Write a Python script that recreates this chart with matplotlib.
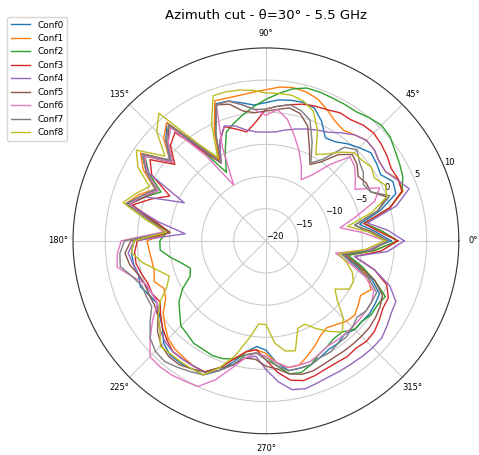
import numpy as np
import matplotlib
matplotlib.use("Agg")
import matplotlib.pyplot as plt

# azimuth angles in degrees, 5 deg step
angles_deg = np.arange(0, 360, 5)

# gain in dB per configuration
conf0 = [-0.5, -3.0, -5.2, -1.5, 1.5, 1.8, 0.6, 1.0, 1.3,
         0.5, -0.3, -1.2, -1.5, 0.5, 2.0, 2.3, 2.2, 2.0,
         1.5, 1.2, 1.8, 2.5, 2.7, -1.5, -5.5, -2.0, 4.0,
         2.0, -0.8, 3.5, 1.5, -1.2, 0.5, 2.3, -2.0, -5.0,
         0.5, 1.0, 0.9, 0.5, 0.8, 0.0, -0.5, 0.2, 1.0,
         2.5, 3.2, 3.2, 3.0, 3.0, 1.5, -0.5, -2.5, -3.5,
         -3.0, -1.0, 0.5, 0.5, 0.5, 0.0, -0.5, -0.5, -1.0,
         -0.5, -0.5, -0.3, -0.4, -0.5, -2.5, -5.5, -8.0, -4.0]
conf1 = [0.5, -2.0, -4.5, 0.0, 2.7, 2.7, 1.5, 1.5, 2.0,
         2.1, 1.5, 1.0, 1.5, 2.5, 3.5, 4.0, 4.2, 4.0,
         3.5, 3.2, 3.0, 3.0, 3.2, -1.0, -5.5, -2.0, 4.0,
         2.5, -0.5, 3.8, 2.0, -1.0, 1.0, 2.5, -2.0, -5.0,
         -1.5, -1.8, -2.0, -2.0, -1.5, -2.5, -2.0, -0.5, 0.5,
         1.5, 2.0, 2.2, 2.5, 2.5, 1.0, -1.0, -2.5, -3.0,
         -2.5, -1.0, 0.0, 0.0, -1.0, -2.0, -3.0, -3.5, -3.0,
         -2.3, -2.0, -2.5, -3.0, -2.0, -3.0, -5.0, -7.5, -3.0]
conf2 = [0.5, -2.0, -4.5, 0.0, 2.5, 3.5, 4.0, 4.5, 5.2,
         5.4, 5.0, 4.5, 4.5, 4.5, 4.6, 4.6, 4.0, 3.0,
         2.0, 1.0, 0.0, -1.0, -2.0, -5.0, -7.7, -3.0, 3.5,
         1.5, -1.0, 3.0, 1.0, -2.0, 0.0, 2.0, -2.0, -4.5,
         -3.5, -3.5, -5.0, -6.5, -7.5, -7.0, -5.0, -3.5, -2.5,
         -1.3, -1.0, -0.5, -0.5, -0.3, -0.5, -1.0, -2.0, -2.5,
         -2.0, -0.5, 1.0, 1.2, 0.5, -0.5, -1.0, -1.5, -1.5,
         -0.5, -0.5, 0.0, 0.0, 0.5, -2.0, -4.5, -7.0, -3.0]
conf3 = [0.5, -2.5, -4.5, 0.0, 2.5, 2.7, 2.5, 3.0, 3.4,
         3.7, 3.5, 3.0, 3.0, 2.5, 2.3, 2.0, 1.5, 1.0,
         0.5, -1.5, -2.8, -2.0, -1.1, -3.0, -6.0, -3.0, 2.0,
         1.0, -1.5, 2.0, 0.5, -3.5, -1.0, 1.5, -2.5, -5.0,
         0.0, 0.5, 0.5, 0.0, -0.5, -0.5, -1.0, 0.0, 1.0,
         1.8, 2.5, 2.5, 2.5, 2.5, 1.0, -1.0, -2.5, -3.0,
         -1.5, 0.5, 2.0, 2.5, 2.3, 2.0, 1.9, 2.0, 1.8,
         2.1, 2.0, 1.5, 1.0, 1.0, 0.0, -2.5, -6.0, -2.0]
conf4 = [1.5, -1.0, -4.0, 1.0, 3.7, 2.5, 1.5, 1.5, 2.0,
         2.1, 1.5, 0.5, -0.5, -1.0, -1.5, -2.0, -2.5, -3.0,
         -3.1, -3.0, -2.5, -1.5, -1.0, -3.0, -6.0, -2.5, 3.5,
         2.0, -0.5, 3.5, 1.0, -6.0, 0.0, 2.0, -3.0, -7.4,
         0.5, 1.5, 1.0, 0.5, 0.0, -0.5, -0.5, 0.5, 1.5,
         2.2, 2.5, 2.5, 2.5, 2.5, 1.5, 0.0, -1.5, -2.0,
         0.0, 2.0, 3.5, 3.8, 3.5, 3.3, 3.3, 3.3, 3.4,
         3.5, 3.5, 3.0, 2.5, 2.3, 0.5, -2.5, -6.0, -1.0]
conf5 = [-1.0, -3.5, -6.0, -2.0, 0.0, -2.0, -2.0, -2.5, -1.5,
         -1.0, -2.5, -5.0, -6.3, -4.0, -1.0, 0.5, 1.0, 0.5,
         0.2, 0.0, 0.5, 2.0, 2.5, -1.5, -6.0, -2.0, 3.5,
         1.5, -1.0, 3.0, 1.5, -1.5, 0.0, 2.0, -2.0, -5.0,
         1.0, 2.0, 1.5, 0.5, 0.0, 0.0, 0.0, 0.5, 2.0,
         3.0, 3.5, 3.5, 3.0, 2.5, 1.0, 0.0, -1.5, -1.5,
         -0.5, 0.0, 1.0, 1.5, 1.5, 1.2, 1.0, 1.0, 1.0,
         1.0, 1.0, 0.8, 0.5, 0.0, -2.0, -5.0, -7.5, -3.5]
conf6 = [-1.5, -5.0, -8.3, -5.5, -2.0, -0.5, -4.0, -3.0, -2.0,
         -1.5, -4.5, -7.5, -9.0, -7.0, -5.0, -3.0, -0.8, 0.5,
         -0.5, 0.5, 1.5, 2.5, 2.5, -4.0, -10.0, -4.0, 3.0,
         1.5, -1.0, 3.0, 1.5, -1.5, 0.5, 2.0, -1.5, -4.0,
         2.5, 3.2, 3.5, 1.5, -0.2, -0.5, -0.5, 1.5, 3.5,
         5.5, 5.6, 5.5, 5.2, 5.0, 3.0, 0.5, -1.5, -2.5,
         -2.0, -1.0, 0.0, 0.0, 0.0, -0.5, -1.0, -1.0, -1.0,
         -1.0, -1.0, -1.0, -1.0, -1.5, -3.5, -6.5, -9.0, -4.0]
conf7 = [-1.0, -4.0, -6.0, -2.0, 0.5, -2.0, -2.5, -1.5, -1.0,
         0.0, -1.0, -4.5, -6.0, -3.0, 0.0, 1.0, 1.5, 1.0,
         0.5, 0.5, 1.5, 2.5, 2.5, -1.5, -6.0, -2.0, 3.5,
         2.0, -0.5, 3.5, 1.5, -1.0, 0.5, 2.5, -1.5, -4.5,
         2.0, 2.8, 3.0, 1.5, 0.5, 0.5, 0.5, 2.0, 3.5,
         4.3, 4.5, 4.0, 3.5, 3.0, 1.5, 0.0, -2.0, -2.5,
         -1.5, -0.5, 0.5, 0.5, 0.5, 0.0, 0.0, -0.5, -0.5,
         -1.0, -1.5, -1.0, -1.0, -1.0, -3.0, -6.0, -8.0, -3.5]
conf8 = [-1.5, -4.0, -7.1, -3.0, 0.0, 0.5, -0.5, 0.0, -0.5,
         -0.6, -2.0, -3.5, -4.5, -1.0, 1.5, 2.5, 3.0, 3.0,
         3.0, 3.5, 3.8, 4.0, 4.0, 0.0, -5.0, -1.5, 5.9,
         4.0, 0.5, 4.6, 3.0, 0.0, 1.5, 3.0, -1.0, -4.5,
         0.5, 1.0, -0.5, -2.5, -4.0, -3.0, -1.0, 0.5, 1.5,
         3.2, 3.0, 3.0, 3.0, 3.0, 1.0, -1.5, -4.5, -7.0,
         -7.0, -4.0, -2.6, -2.3, -5.5, -5.7, -4.2, -2.8, -1.5,
         -3.0, -5.5, -6.9, -5.0, -5.0, -5.7, -7.0, -8.5, -4.5]

series = [conf0, conf1, conf2, conf3, conf4, conf5, conf6, conf7, conf8]
labels = ["Conf%d" % i for i in range(len(series))]
rticks = [-20, -15, -10, -5, 0, 5, 10]

fig = plt.figure(figsize=(4.79, 4.55), dpi=100)
ax = fig.add_axes([0.1524, 0.0462, 0.8055, 0.849], projection="polar")

theta = np.deg2rad(np.append(angles_deg, 360))
for vals, lab in zip(series, labels):
    r = np.append(vals, vals[0])
    ax.plot(theta, r, lw=1.0, label=lab)

ax.set_rlim(-20, 10)
ax.set_rticks(rticks)
ax.set_rlabel_position(22.5)
ax.tick_params(labelsize=6)
ax.tick_params(axis="x", pad=0)
ax.grid(color="#cccccc", lw=0.8)
ax.spines["polar"].set_color("#333333")
ax.set_title("Azimuth cut - θ=30° - 5.5 GHz", fontsize=9.5, y=1.053, va="baseline")

fig.legend(loc="upper left", bbox_to_anchor=(7 / 479, 1 - 17 / 455),
           borderaxespad=0, fontsize=6.4, handlelength=2.2)

fig.savefig("out.png", dpi=100)
